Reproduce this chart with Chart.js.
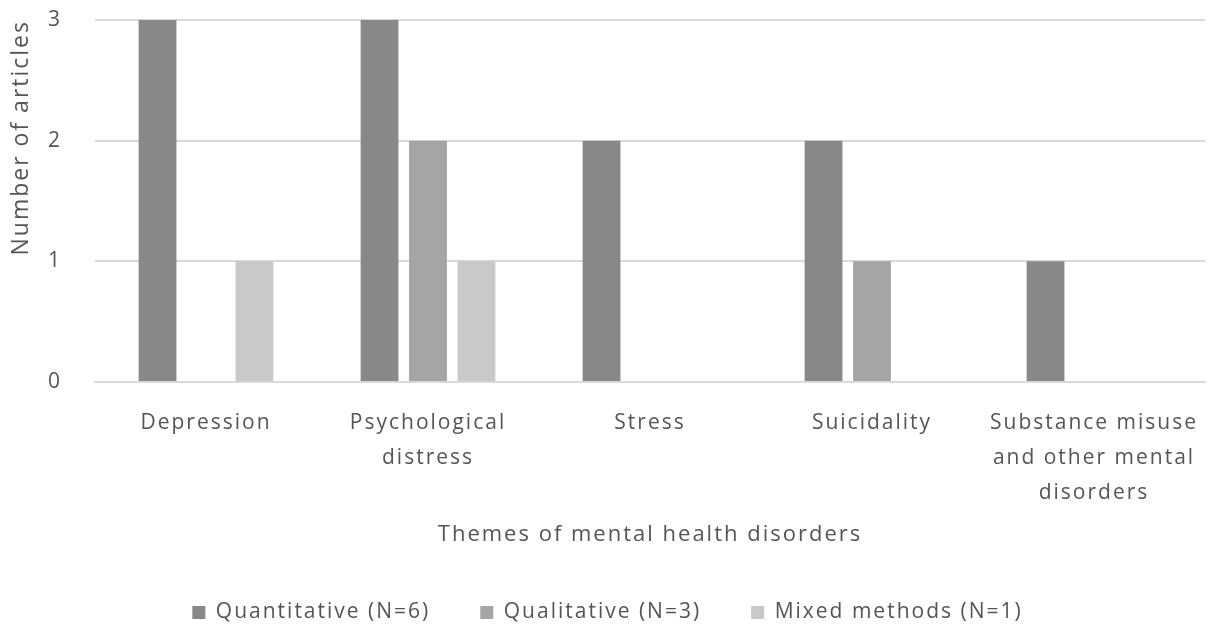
<!DOCTYPE html>
<html>
<head>
<meta charset="utf-8">
<script src="https://cdn.jsdelivr.net/npm/chart.js@4"></script>
<style>
  html, body { margin: 0; padding: 0; background: #fff; }
  #wrap { width: 1215px; height: 633px; }
</style>
</head>
<body>
<div id="wrap"><canvas id="chart" width="1215" height="633"></canvas></div>
<script>
// Categories (multi-line labels as in the figure)
const themes = [
    'Depression',
    ['Psychological', 'distress'],
    'Stress',
    'Suicidality',
    ['Substance misuse', 'and other mental', 'disorders']
];

// Series values
const quantitative = [3, 3, 2, 2, 1];
const qualitative = [0, 2, 0, 1, 0];
const mixedMethods = [1, 1, 0, 0, 0];

// Tick labels on the y axis
const yTicks = [0, 1, 2, 3];

const textColor = '#555555';
const gridColor = '#d9d9d9';

Chart.defaults.font.family = '"Open Sans", sans-serif';
Chart.defaults.color = textColor;

// The source figure has loosely spaced text, so widen the letters a bit
const letterSpacingPlugin = {
    id: 'letterSpacing',
    beforeUpdate(chart) { chart.ctx.letterSpacing = '2px'; },
    beforeDraw(chart) { chart.ctx.letterSpacing = '2px'; }
};

const ctx = document.getElementById('chart').getContext('2d');
ctx.letterSpacing = '2px';

new Chart(ctx, {
    type: 'bar',
    data: {
        labels: themes,
        datasets: [
            {
                label: 'Quantitative (N=6)',
                data: quantitative,
                backgroundColor: '#888888'
            },
            {
                label: 'Qualitative (N=3)',
                data: qualitative,
                backgroundColor: '#a5a5a5'
            },
            {
                label: 'Mixed methods (N=1)',
                data: mixedMethods,
                backgroundColor: '#c9c9c9'
            }
        ]
    },
    plugins: [letterSpacingPlugin],
    options: {
        responsive: false,
        animation: false,
        devicePixelRatio: 1,
        layout: {
            padding: 0
        },
        datasets: {
            bar: {
                categoryPercentage: 0.655,
                barPercentage: 0.78
            }
        },
        plugins: {
            tooltip: { enabled: false },
            legend: {
                position: 'bottom',
                labels: {
                    boxWidth: 13,
                    boxHeight: 13,
                    padding: 50,
                    font: { size: 21 },
                    color: textColor
                }
            }
        },
        scales: {
            x: {
                grid: { display: false, drawTicks: false },
                border: { display: true, color: gridColor, width: 2 },
                ticks: {
                    padding: 24,
                    maxRotation: 0,
                    autoSkip: false,
                    font: { size: 21, lineHeight: 1.65 },
                    color: textColor
                },
                title: {
                    display: true,
                    text: 'Themes of mental health disorders',
                    font: { size: 22 },
                    color: textColor,
                    padding: { top: 0, bottom: 4 }
                },
                afterFit: function(scale) {
                    scale.height = 170;
                    scale.paddingLeft = 0;
                    scale.paddingRight = 10;
                }
            },
            y: {
                min: 0,
                max: 3,
                afterBuildTicks: function(scale) {
                    scale.ticks = yTicks.map(v => ({ value: v }));
                },
                grid: { color: gridColor, lineWidth: 2, drawTicks: false },
                border: { display: false },
                ticks: {
                    padding: 33,
                    font: { size: 21 },
                    color: textColor
                },
                title: {
                    display: true,
                    text: 'Number of articles',
                    align: 'end',
                    font: { size: 23 },
                    color: textColor,
                    padding: { top: 8, bottom: 4 }
                },
                afterFit: function(scale) {
                    scale.width = 95;
                    // keep the plot top at y=20 (tick padding would push it down)
                    scale.paddingTop = 20;
                    scale.paddingBottom = 0;
                }
            }
        }
    }
});
</script>
</body>
</html>
